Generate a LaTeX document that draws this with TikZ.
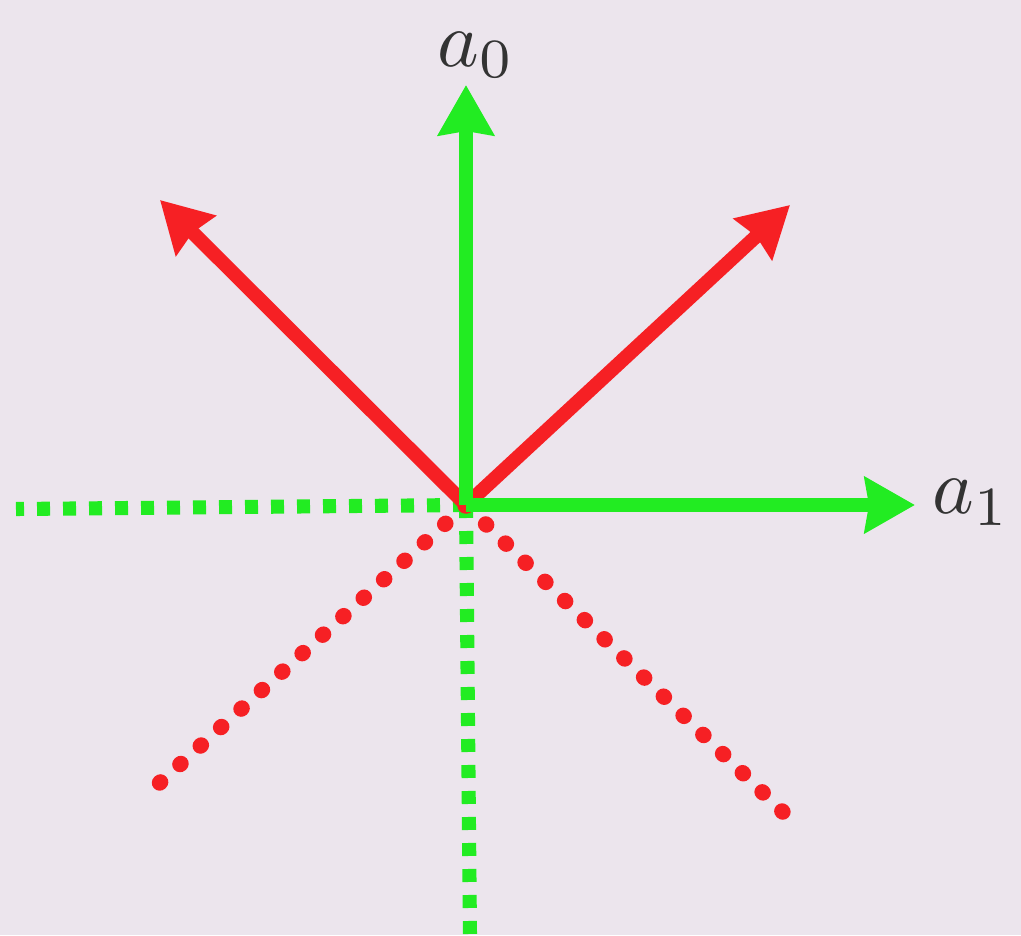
\documentclass[tikz,border=0pt]{standalone}
\usepackage{xcolor}
\usetikzlibrary{arrows.meta}

\definecolor{bgcol}{RGB}{236,229,237}
\definecolor{axisgreen}{RGB}{34,236,34}
\definecolor{diagred}{RGB}{246,32,36}

\begin{document}
\begin{tikzpicture}[
    axis/.style={line width=8pt, draw=axisgreen,
        -{Stealth[length=10mm,width=11mm,inset=0.8mm]}},
    diag/.style={line width=8pt, draw=diagred,
        -{Stealth[length=10mm,width=11mm,inset=0.8mm]}},
    axisdot/.style={line width=8pt, draw=axisgreen,
        dash pattern=on 0.26cm off 0.26cm},
    diagdot/.style={line width=9pt, draw=diagred, line cap=round,
        dash pattern=on 0.02cm off 0.53cm},
    lbl/.style={scale=4.5, inner sep=0pt, text=black!80}
]

% background and frame
\fill[bgcol] (-9.32,-8.6) rectangle (11.1,10.1);
\useasboundingbox (-9.32,-8.6) rectangle (11.1,10.1);

% =========================================================
% Points
% =========================================================
\coordinate (O) at (0,0);
\coordinate (up) at (0,8.4);
\coordinate (right) at (8.98,0);
\coordinate (ul) at (-6.12,6.1);
\coordinate (ur) at (6.48,6.0);
\coordinate (left) at (-9.0,-0.08);
\coordinate (down) at (0.08,-8.6);
\coordinate (dl) at (-6.45,-5.85);
\coordinate (dr) at (6.4,-6.2);

% Labels
\node[lbl] (a0) at (0.2,9.0) {$a_0$};
\node[lbl, anchor=west] (a1) at (9.3,0.05) {$a_1$};

% =========================================================
% Dotted halves
% =========================================================
\draw[axisdot] (O) -- (left);
\draw[axisdot] (O) -- (down);
\draw[diagdot] (O) -- (dl);
\draw[diagdot] (O) -- (dr);

% Arrows
\draw[diag] (O) -- (ul);
\draw[diag] (O) -- (ur);
\draw[axis] (O) -- (up);
\draw[axis] (O) -- (right);

\end{tikzpicture}
\end{document}
